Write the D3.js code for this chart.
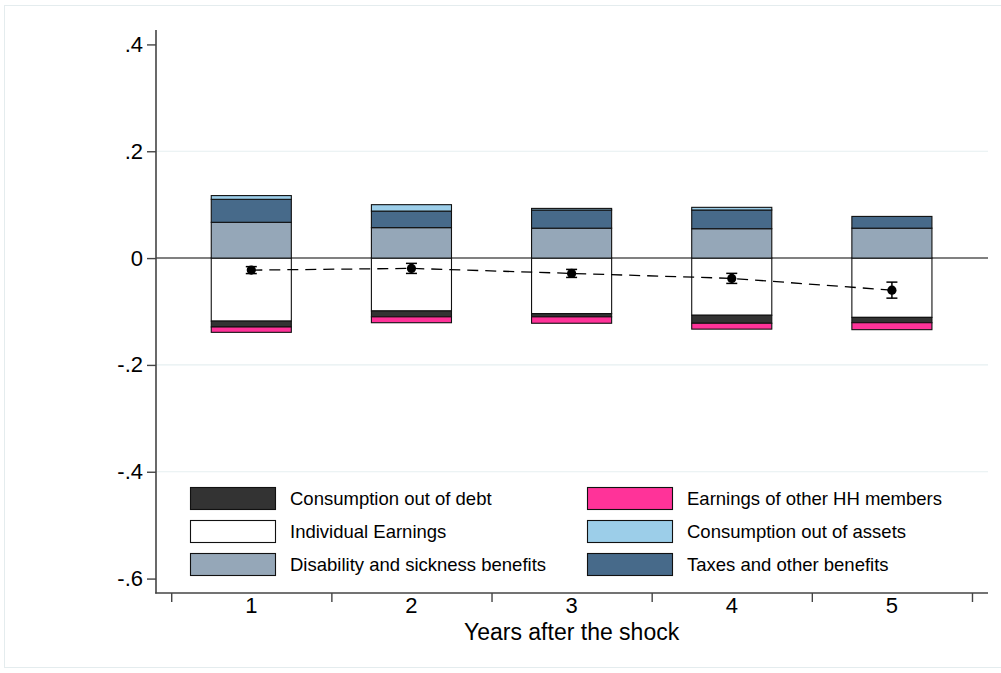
<!DOCTYPE html>
<html>
<head>
<meta charset="utf-8">
<script src="https://cdn.jsdelivr.net/npm/d3@7"></script>
<style>
  html, body { margin: 0; padding: 0; background: #fff; }
  svg { display: block; font-family: "Liberation Sans", Arial, Helvetica, sans-serif; }
</style>
</head>
<body>
<svg id="chart" width="1001" height="673"></svg>
<script>
// Years after the shock
const years = [1, 2, 3, 4, 5];

// Decomposition of the income response (share of pre-shock income)
const individualEarnings = [-0.118, -0.099, -0.104, -0.107, -0.111];
const consumptionDebt    = [-0.011, -0.011, -0.006, -0.015, -0.010];
const otherHHEarnings    = [-0.010, -0.011, -0.012, -0.011, -0.013];
const disabilityBenefits = [0.067, 0.057, 0.056, 0.055, 0.056];
const taxesOtherBenefits = [0.043, 0.031, 0.034, 0.035, 0.022];
const consumptionAssets  = [0.007, 0.012, 0.003, 0.005, 0.000];

// Consumption response with confidence bands
const consumptionEffect = [-0.0225, -0.0193, -0.0287, -0.038, -0.060];
const ciLow             = [-0.029, -0.0287, -0.0362, -0.0474, -0.075];
const ciHigh            = [-0.016, -0.0099, -0.0212, -0.0286, -0.045];

const yTicks = [0.4, 0.2, 0, -0.2, -0.4, -0.6];
const yTickLabels = [".4", ".2", "0", "-.2", "-.4", "-.6"];
const xMinorTicks = [0.5, 1.5, 2.5, 3.5, 4.5, 5.5];

// Series definitions (stack order outward from zero)
const negSeries = [
  { name: "Individual Earnings", values: individualEarnings, color: "#ffffff" },
  { name: "Consumption out of debt", values: consumptionDebt, color: "#333333" },
  { name: "Earnings of other HH members", values: otherHHEarnings, color: "#ff3399" }
];
const posSeries = [
  { name: "Disability and sickness benefits", values: disabilityBenefits, color: "#95a7b8" },
  { name: "Taxes and other benefits", values: taxesOtherBenefits, color: "#476a8a" },
  { name: "Consumption out of assets", values: consumptionAssets, color: "#9ccee9" }
];
const legendOrder = [
  ["Consumption out of debt", "#333333"],
  ["Earnings of other HH members", "#ff3399"],
  ["Individual Earnings", "#ffffff"],
  ["Consumption out of assets", "#9ccee9"],
  ["Disability and sickness benefits", "#95a7b8"],
  ["Taxes and other benefits", "#476a8a"]
];

const svg = d3.select("#chart");

// outer graph region border
svg.append("rect")
  .attr("x", 4.5).attr("y", 5.5).attr("width", 1000).attr("height", 662)
  .attr("fill", "#fff").attr("stroke", "#e4ecee").attr("stroke-width", 1);

const plot = { left: 156, right: 988, top: 30, bottom: 593 };

const x = d3.scaleLinear().domain([0.405, 5.6]).range([plot.left, plot.right]);
const y = d3.scaleLinear().domain([-0.627, 0.427]).range([plot.bottom, plot.top]);

// gridlines
svg.append("g").selectAll("line")
  .data([0.2, -0.2, -0.4])
  .join("line")
  .attr("x1", plot.left).attr("x2", plot.right)
  .attr("y1", d => y(d)).attr("y2", d => y(d))
  .attr("stroke", "#e6eff1").attr("stroke-width", 1.2);

// zero line
svg.append("line")
  .attr("x1", plot.left).attr("x2", plot.right)
  .attr("y1", y(0)).attr("y2", y(0))
  .attr("stroke", "#808080").attr("stroke-width", 2);

// stacked bars
const barW = x(1.25) - x(0.75);
function drawStack(series) {
  const cum = years.map(() => 0);
  series.forEach(s => {
    const g = svg.append("g");
    years.forEach((yr, i) => {
      const v = s.values[i];
      const start = cum[i];
      const end = start + v;
      cum[i] = end;
      if (Math.abs(v) < 1e-9) return;
      g.append("rect")
        .attr("x", x(yr) - barW / 2)
        .attr("width", barW)
        .attr("y", y(Math.max(start, end)))
        .attr("height", Math.abs(y(start) - y(end)))
        .attr("fill", s.color)
        .attr("stroke", "#111")
        .attr("stroke-width", 1.1);
    });
  });
}
drawStack(negSeries);
drawStack(posSeries);

// dashed line through the point estimates
const line = d3.line().x((d, i) => x(years[i])).y(d => y(d));
svg.append("path")
  .datum(consumptionEffect)
  .attr("d", line)
  .attr("fill", "none")
  .attr("stroke", "#000")
  .attr("stroke-width", 1.3)
  .attr("stroke-dasharray", "11,7");

// confidence intervals
const capW = 5.5;
const ci = svg.append("g").attr("stroke", "#000").attr("stroke-width", 1.5);
years.forEach((yr, i) => {
  ci.append("line").attr("x1", x(yr)).attr("x2", x(yr))
    .attr("y1", y(ciLow[i])).attr("y2", y(ciHigh[i]));
  ci.append("line").attr("x1", x(yr) - capW).attr("x2", x(yr) + capW)
    .attr("y1", y(ciLow[i])).attr("y2", y(ciLow[i]));
  ci.append("line").attr("x1", x(yr) - capW).attr("x2", x(yr) + capW)
    .attr("y1", y(ciHigh[i])).attr("y2", y(ciHigh[i]));
});
svg.append("g").selectAll("circle")
  .data(consumptionEffect)
  .join("circle")
  .attr("cx", (d, i) => x(years[i]))
  .attr("cy", d => y(d))
  .attr("r", 4.6)
  .attr("fill", "#000");

// legend
const legend = svg.append("g");
legend.append("rect")
  .attr("x", 172).attr("y", 477).attr("width", 800).attr("height", 112)
  .attr("fill", "#fff");
const colX = [190, 587];
const rowY = [487, 520, 553];
legendOrder.forEach((d, i) => {
  const cx = colX[i % 2], ry = rowY[Math.floor(i / 2)];
  legend.append("rect")
    .attr("x", cx + 0.5).attr("y", ry + 0.5)
    .attr("width", 85).attr("height", 22)
    .attr("fill", d[1]).attr("stroke", "#111").attr("stroke-width", 1.1);
  legend.append("text")
    .attr("x", cx + 100).attr("y", ry + 11)
    .attr("dominant-baseline", "central")
    .attr("font-size", 18.5).attr("fill", "#000")
    .text(d[0]);
});

// y axis
const yAxis = d3.axisLeft(y)
  .tickValues(yTicks)
  .tickFormat((d, i) => yTickLabels[i])
  .tickSize(9).tickPadding(4);
const yg = svg.append("g").attr("transform", `translate(${plot.left},0)`).call(yAxis);
yg.select(".domain").attr("d", `M0,${plot.top}V${plot.bottom + 0.5}`)
  .attr("stroke", "#444").attr("stroke-width", 1.6);
yg.selectAll(".tick line").attr("stroke", "#444").attr("stroke-width", 1.4);
yg.selectAll(".tick text").attr("font-size", 22).attr("fill", "#000")
  .attr("font-family", "Liberation Sans, Arial, sans-serif");

// x axis: unlabeled ticks between years, labels at years
const xAxisG = svg.append("g").attr("transform", `translate(0,${plot.bottom})`);
xAxisG.append("line")
  .attr("x1", plot.left - 0.8).attr("x2", plot.right)
  .attr("stroke", "#444").attr("stroke-width", 1.6);
xAxisG.call(d3.axisBottom(x).tickValues(xMinorTicks).tickFormat("").tickSize(9))
  .call(g => g.select(".domain").remove())
  .call(g => g.selectAll(".tick line").attr("stroke", "#444").attr("stroke-width", 1.4));
xAxisG.append("g").selectAll("text")
  .data(years)
  .join("text")
  .attr("x", d => x(d))
  .attr("y", 20)
  .attr("text-anchor", "middle")
  .attr("font-size", 22)
  .attr("fill", "#000")
  .text(d => d);

svg.append("text")
  .attr("x", x(3)).attr("y", 640)
  .attr("text-anchor", "middle")
  .attr("font-size", 23)
  .attr("fill", "#000")
  .text("Years after the shock");
</script>
</body>
</html>
